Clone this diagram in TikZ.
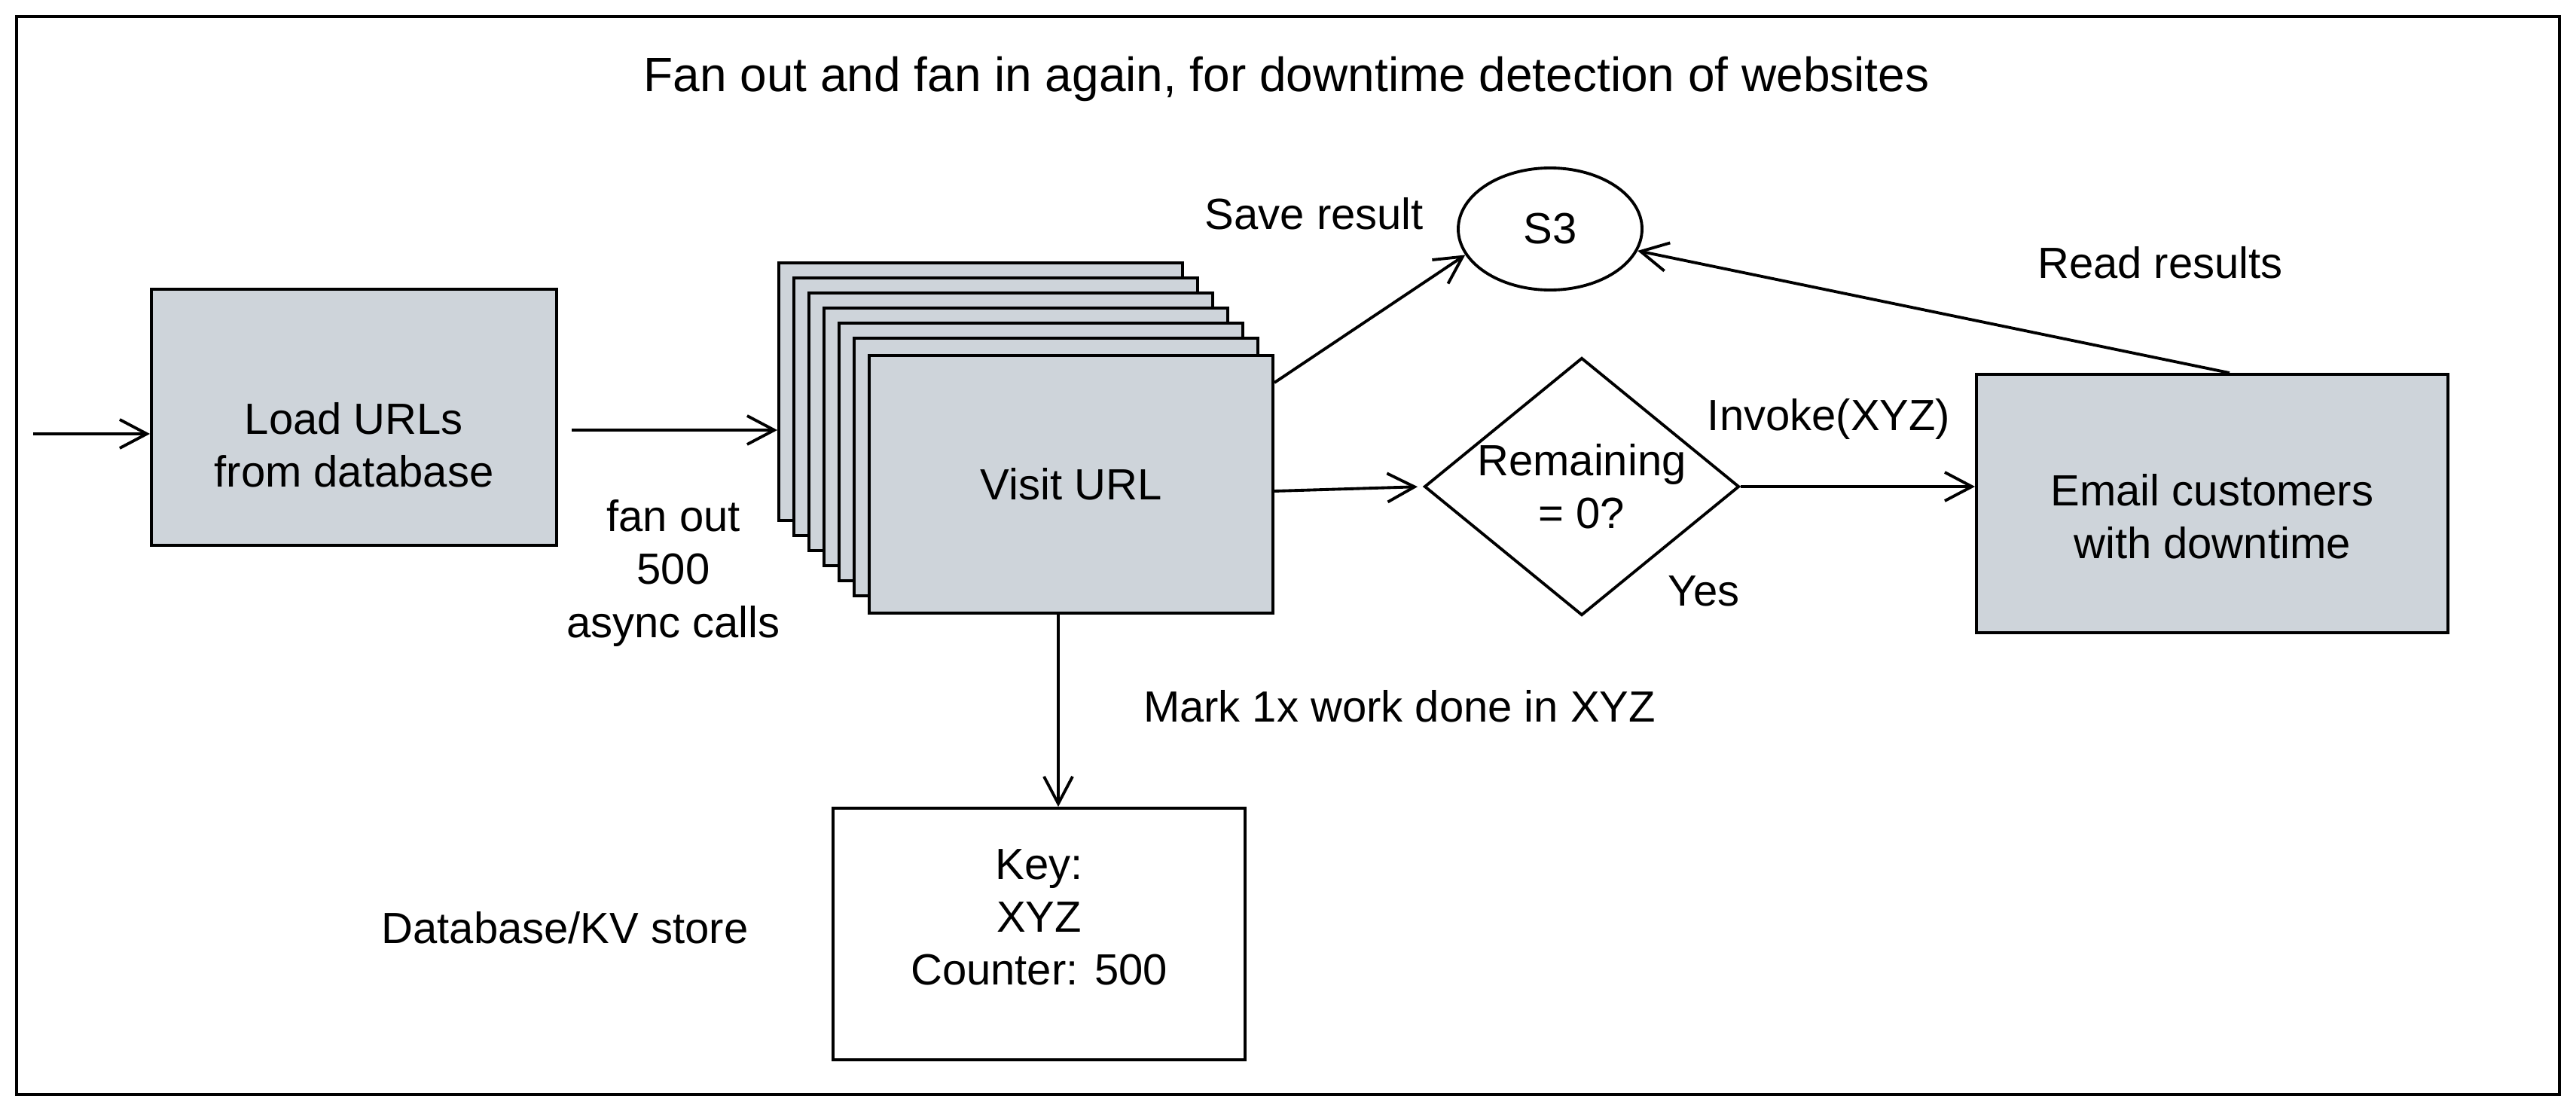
\documentclass[tikz,border=0pt]{standalone}
\usepackage{fontspec}
\setmainfont{Liberation Sans}
\usetikzlibrary{arrows.meta,shapes.geometric,calc}
\definecolor{boxgray}{HTML}{CED4DA}
\tikzset{
  every node/.style={font=\fontsize{16.5}{20}\selectfont},
  gbox/.style={draw=black, line width=1.1pt, fill=boxgray, rectangle, inner sep=0pt, align=center},
  wbox/.style={draw=black, line width=1.1pt, fill=white, rectangle, inner sep=0pt, align=center},
  lbl/.style={align=center, inner sep=0pt},
  arr/.style={line width=1.1pt, -{Straight Barb[length=3.6mm,width=3.8mm,line width=1.1pt]}},
}
\begin{document}
\begin{tikzpicture}
\useasboundingbox (0,0) rectangle (34.2,-14.75);
% frame
\draw[line width=1.1pt] (0.22,-0.22) rectangle (33.98,-14.53);
% title
\node[lbl, font=\fontsize{18.2}{22}\selectfont] (title) at (17.08,-1.05) {Fan out and fan in again, for downtime detection of websites};
% load box
\node[gbox, minimum width=5.38cm, minimum height=3.40cm,
  label={[lbl, yshift=-3.7mm]center:{Load URLs\\from database}}] (load) at (4.70,-5.54) {};
\coordinate (in) at (0.44,-5.76);
% stacked visit boxes
\foreach \i in {0,...,5} {
  \node[gbox, minimum width=5.36cm, minimum height=3.42cm] (s\i) at ({13.02+0.2*\i},{-5.20-0.2*\i}) {};
}
\node[gbox, minimum width=5.36cm, minimum height=3.42cm] (visit) at (14.22,-6.43) {Visit URL};
% s3
\node[draw=black, line width=1.1pt, ellipse, minimum width=2.44cm, minimum height=1.62cm, inner sep=0pt] (s3) at (20.58,-3.04) {S3};
% diamond
\node[draw=black, line width=1.1pt, diamond, aspect=1.22, minimum width=4.18cm, minimum height=3.42cm, inner sep=0pt, align=center] (dia) at (21.0,-6.46) {Remaining\\= 0?};
% email
\node[gbox, minimum width=6.26cm, minimum height=3.43cm,
  label={[lbl, yshift=-1.7mm]center:{Email customers\\with downtime}}] (email) at (29.37,-6.685) {};
% kv
\node[wbox, minimum width=5.47cm, minimum height=3.34cm,
  label={[lbl, yshift=2.2mm]center:{Key:\\XYZ\\Counter: 500}}] (kv) at (13.795,-12.40) {};
% labels
\node[lbl] (fan) at (8.94,-7.61) {fan out\\500\\async calls};
\node[lbl] (save) at (17.45,-2.84) {Save result};
\node[lbl] (read) at (28.68,-3.49) {Read results};
\node[lbl] (invoke) at (24.28,-5.56) {Invoke(XYZ)};
\node[lbl] (yes) at (22.62,-7.85) {Yes};
\node[lbl] (mark) at (18.58,-9.38) {Mark 1x work done in XYZ};
\node[lbl] (dbkv) at (7.50,-12.32) {Database/KV store};
% connectors
\draw[arr] (in) -- (in -| load.west);
\draw[arr, shorten <=1.8mm] ([yshift=-1.7mm]load.east) -- ([yshift=-1.7mm]load.east -| s0.west);
\draw[arr] ([yshift=13.5mm]visit.east) -- (s3.197);
\draw[arr, shorten >=0.7mm] ([yshift=-0.9mm]visit.east) -- (dia.west);
\draw[arr] (dia.east) -- (dia.east -| email.west);
\draw[arr] ([xshift=2.3mm]email.north) -- (s3.346);
\draw[arr] ([xshift=-1.7mm]visit.south) -- ([xshift=-1.7mm]visit.south |- kv.north);
\end{tikzpicture}
\end{document}
